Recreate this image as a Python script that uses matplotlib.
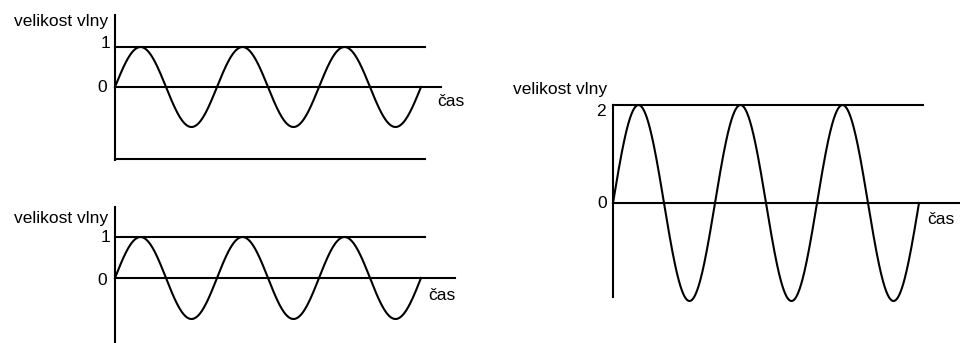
import numpy as np
import matplotlib
matplotlib.use('Agg')
import matplotlib.pyplot as plt

plt.rcParams['font.family'] = ['Liberation Sans', 'DejaVu Sans']

W, H = 960, 343

# data
amplitudes = [1, 1, 2]          # peak value of each wave
cycles = [3, 3, 3]              # number of full periods shown
level_labels = [['1', '0'], ['1', '0'], ['2', '0']]
level_values = [[1, 0], [1, 0], [2, 0]]
bottom_line = [-1.8, None, None]  # extra horizontal line under the first panel
y_label = 'velikost vlny'
x_label = 'čas'

# layout in pixels: origin of the wave, px per period, px per unit
panels = [
    dict(origin=(115, 87), px_x=102, px_y=40, axis=(-1.83, 1.8), zero_end=3.2, top_end=3.04,
         ylab=(-0.07, 1.64), xlab=(3.16, -0.35), lvl_dx=[-0.05, -0.08], lvl_dy=[0.1, 0.0]),
    dict(origin=(115, 278), px_x=102, px_y=41, axis=(-1.8, 1.73), zero_end=3.33, top_end=3.04,
         ylab=(-0.07, 1.46), xlab=(3.07, -0.42), lvl_dx=[-0.05, -0.08], lvl_dy=[0.0, -0.05]),
    dict(origin=(613, 203), px_x=102, px_y=49, axis=(-1.92, 2.0), zero_end=3.6, top_end=3.04,
         ylab=(-0.06, 2.32), xlab=(3.08, -0.34), lvl_dx=[-0.07, -0.06], lvl_dy=[-0.14, 0.0]),
]

fig = plt.figure(figsize=(W / 100, H / 100), dpi=100)
fig.patch.set_facecolor('white')

xlim = (-0.3, 3.7)
ylim = (-2.3, 2.6)

for i, p in enumerate(panels):
    x0, y0 = p['origin']
    left = x0 + xlim[0] * p['px_x']
    right = x0 + xlim[1] * p['px_x']
    top = y0 - ylim[1] * p['px_y']
    bottom = y0 - ylim[0] * p['px_y']
    ax = fig.add_axes([left / W, 1 - bottom / H, (right - left) / W, (bottom - top) / H])
    ax.set_xlim(*xlim)
    ax.set_ylim(*ylim)
    ax.axis('off')

    lw = 1.5
    t = np.linspace(0, cycles[i], 600)
    ax.plot(t, amplitudes[i] * np.sin(2 * np.pi * t), color='black', lw=lw, clip_on=False)

    # vertical axis
    ax.plot([0, 0], list(p['axis']), color='black', lw=lw, clip_on=False)
    # zero line and top level line
    ax.plot([0, p['zero_end']], [0, 0], color='black', lw=lw, clip_on=False)
    ax.plot([0, p['top_end']], [amplitudes[i]] * 2, color='black', lw=lw, clip_on=False)
    if bottom_line[i] is not None:
        ax.plot([0, p['top_end']], [bottom_line[i]] * 2, color='black', lw=lw, clip_on=False)

    for lab, val, dx, dy in zip(level_labels[i], level_values[i], p['lvl_dx'], p['lvl_dy']):
        ax.text(dx, val + dy, lab, ha='right', va='center', fontsize=12.5, clip_on=False)

    ax.text(p['ylab'][0], p['ylab'][1], y_label, ha='right', va='center', fontsize=12.5, clip_on=False)
    ax.text(p['xlab'][0], p['xlab'][1], x_label, ha='left', va='center', fontsize=12.5, clip_on=False)

fig.savefig('out.png', dpi=100, facecolor='white')
